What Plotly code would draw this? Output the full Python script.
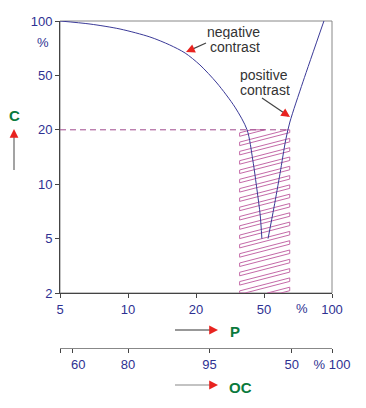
import numpy as np
import plotly.graph_objects as go

# ---- data ----
P_TICKS = [5, 10, 20, 50, 100]
C_TICKS = [2, 5, 10, 20, 50, 100]
P_LABELS = ["5", "10", "20", "50", "100"]
C_LABELS = ["2", "5", "10", "20", "50", "100"]

neg_P = [5, 6.79, 9.22, 12.5, 15.3, 17.9, 21.1, 26.5, 33.8, 39.8, 43.0, 45.5, 47.5, 48.6]
neg_C = [100, 96.2, 90.3, 81.6, 73.7, 66.5, 57.1, 44.0, 29.3, 20.0, 13.6, 9.29, 6.75, 5.0]

pos_P = [52.1, 55.4, 58.9, 62.4, 65.1, 74.4, 92.1]
pos_C = [5.0, 7.48, 11.5, 17.6, 22.8, 44.9, 100]

C_LIMIT = 20
P_BAND = [36, 65]

# OC scale: labels and their P-scale equivalent positions
OC_POS_P = [5, 5.7, 10, 24, 66.4, 100]
OC_LABELS = ["", "\u00a0\u00a0\u00a060", "80", "95", "50", "%\u00a0100"]


def idx(v, ticks):
    n = len(ticks)
    for i in range(n - 1):
        if v <= ticks[i + 1] or i == n - 2:
            return i + np.log(v / ticks[i]) / np.log(ticks[i + 1] / ticks[i])


def px(v):
    return idx(v, P_TICKS)


def cy(v):
    return idx(v, C_TICKS)


# ---- layout geometry ----
W, H = 366, 408
ML, MR, MT, MB = 60, 34, 21, 60
PLOT_W = W - ML - MR          # 272
PAPER_H = H - MT - MB         # 327
MAIN_H = 272
Y_DOM0 = (PAPER_H - MAIN_H) / PAPER_H
PXU = PLOT_W / (len(P_TICKS) - 1)
PXV = MAIN_H / (len(C_TICKS) - 1)


def xp(pxl):
    return (pxl - ML) / PLOT_W


def yp(pyl):
    return (H - MB - pyl) / PAPER_H


BLUE = "#2e3192"
GREEN = "#0a7a3c"
RED = "#e8231f"
FONT = "Arial, Liberation Sans, sans-serif"

# ---- hatch (outlined diagonal bands) ----
uL, uR = px(P_BAND[0]), px(P_BAND[1])
vB, vT = 0.0, cy(C_LIMIT)
Wp = (uR - uL) * PXU
Hp = (vT - vB) * PXV


def clip(poly, yb, above):
    out = []
    n = len(poly)
    for i in range(n):
        a, b = poly[i], poly[(i + 1) % n]
        ina = a[1] >= yb if above else a[1] <= yb
        inb = b[1] >= yb if above else b[1] <= yb
        if ina:
            out.append(a)
        if ina != inb:
            t = (yb - a[1]) / (b[1] - a[1])
            out.append((a[0] + t * (b[0] - a[0]), yb))
    return out


hx, hy = [], []
b = -20.0
while b < Hp + 2:
    poly = [(0, b), (Wp, b + 13), (Wp, b + 16.5), (0, b + 3.5)]
    poly = clip(poly, 0, True)
    if poly:
        poly = clip(poly, Hp, False)
    if len(poly) >= 2:
        for (x0, y0) in poly + [poly[0]]:
            hx.append(uL + x0 / PXU)
            hy.append(vB + y0 / PXV)
        hx.append(None)
        hy.append(None)
    b += 9.3

fig = go.Figure()
fig.add_trace(go.Scatter(x=hx, y=hy, mode="lines", line=dict(color="#c46aa8", width=1),
                         hoverinfo="skip", showlegend=False))
fig.add_trace(go.Scatter(x=[px(P_TICKS[0]), px(P_BAND[1])], y=[cy(C_LIMIT)] * 2, mode="lines",
                         line=dict(color="#a04a8e", width=1, dash="6px,4px"),
                         hoverinfo="skip", showlegend=False))
fig.add_trace(go.Scatter(x=[px(v) for v in neg_P], y=[cy(v) for v in neg_C], mode="lines",
                         line=dict(color="#3b3a98", width=1, shape="spline", smoothing=0.8),
                         hoverinfo="skip", showlegend=False))
fig.add_trace(go.Scatter(x=[px(v) for v in pos_P], y=[cy(v) for v in pos_C], mode="lines",
                         line=dict(color="#3b3a98", width=1, shape="spline", smoothing=0.8),
                         hoverinfo="skip", showlegend=False))
fig.add_trace(go.Scatter(x=[0], y=[-10], xaxis="x2", yaxis="y", mode="markers",
                         marker=dict(opacity=0), hoverinfo="skip", showlegend=False))

ann = []
shapes = [dict(type="rect", xref="x domain", yref="y domain", x0=0, x1=1, y0=0, y1=1,
               line=dict(color="#888888", width=1), layer="below")]


def text(x, y, t, size=14, color="#333333", bold=False, xanchor="center", height=None):
    if bold:
        t = "<b>" + t + "</b>"
    d = dict(x=xp(x), y=yp(y), xref="paper", yref="paper", text=t, showarrow=False,
             xanchor=xanchor, yanchor="middle", borderpad=0,
             font=dict(family=FONT, size=size, color=color))
    if height:
        d["height"] = height
    ann.append(d)


def arrow(tip, tail, linecolor="#444444"):
    dx, dy = tail[0] - tip[0], tail[1] - tip[1]
    L = (dx * dx + dy * dy) ** 0.5
    shapes.append(dict(type="line", xref="paper", yref="paper",
                       x0=xp(tail[0]), y0=yp(tail[1]),
                       x1=xp(tip[0] + dx / L * 4), y1=yp(tip[1] + dy / L * 4),
                       line=dict(color=linecolor, width=1.2)))
    ann.append(dict(x=xp(tip[0]), y=yp(tip[1]), xref="paper", yref="paper", text="",
                    showarrow=True, arrowhead=2, arrowsize=1.1, arrowwidth=1.6,
                    ax=dx / L * 7, ay=dy / L * 7, arrowcolor=RED))


text(261, 31.5, "negative", xanchor="right", height=15)
text(261, 46.5, "contrast", xanchor="right", height=15)
text(239, 74.5, "positive", xanchor="left", height=15)
text(239, 89.5, "contrast", xanchor="left", height=15)
arrow((186, 52), (206, 43))
arrow((290, 117), (262, 98))

text(43, 43, "%", size=13, color=BLUE)
text(302, 308, "%", size=13, color=BLUE)

text(14, 115, "C", size=15, color=GREEN, bold=True)
arrow((14, 129), (14, 170), "#666666")
text(235, 331, "P", size=15, color=GREEN, bold=True)
arrow((218, 330), (175, 330), "#333333")
text(240, 387, "OC", size=15, color=GREEN, bold=True)
arrow((218, 385), (175, 385), "#888888")

fig.update_layout(
    width=W, height=H,
    margin=dict(l=ML, r=MR, t=MT, b=MB, pad=0, autoexpand=False),
    paper_bgcolor="white", plot_bgcolor="white",
    showlegend=False,
    font=dict(family=FONT, size=13, color=BLUE),
    xaxis=dict(range=[0, len(P_TICKS) - 1], tickvals=[px(v) for v in P_TICKS], ticktext=P_LABELS,
               showgrid=False, zeroline=False, showline=True, linecolor="#444444", linewidth=1,
               ticks="outside", ticklen=4, tickcolor="#444444", anchor="y",
               tickfont=dict(size=13, color=BLUE)),
    xaxis2=dict(range=[0, len(P_TICKS) - 1], tickvals=[px(v) for v in OC_POS_P], ticktext=OC_LABELS,
                overlaying="x", anchor="free", position=0,
                showgrid=False, zeroline=False, showline=True, linecolor="#888888", linewidth=1,
                ticks="outside", ticklen=4, tickcolor="#444444",
                tickfont=dict(size=13, color=BLUE)),
    yaxis=dict(range=[0, len(C_TICKS) - 1], tickvals=[cy(v) for v in C_TICKS], ticktext=C_LABELS,
               domain=[Y_DOM0, 1],
               showgrid=False, zeroline=False, showline=True, linecolor="#444444", linewidth=1,
               ticks="outside", ticklen=4, tickcolor="#444444",
               tickfont=dict(size=13, color=BLUE)),
    shapes=shapes,
    annotations=ann,
)

fig.write_html("out.html", config={"displayModeBar": False},
               post_script="document.body.style.margin='0';")
